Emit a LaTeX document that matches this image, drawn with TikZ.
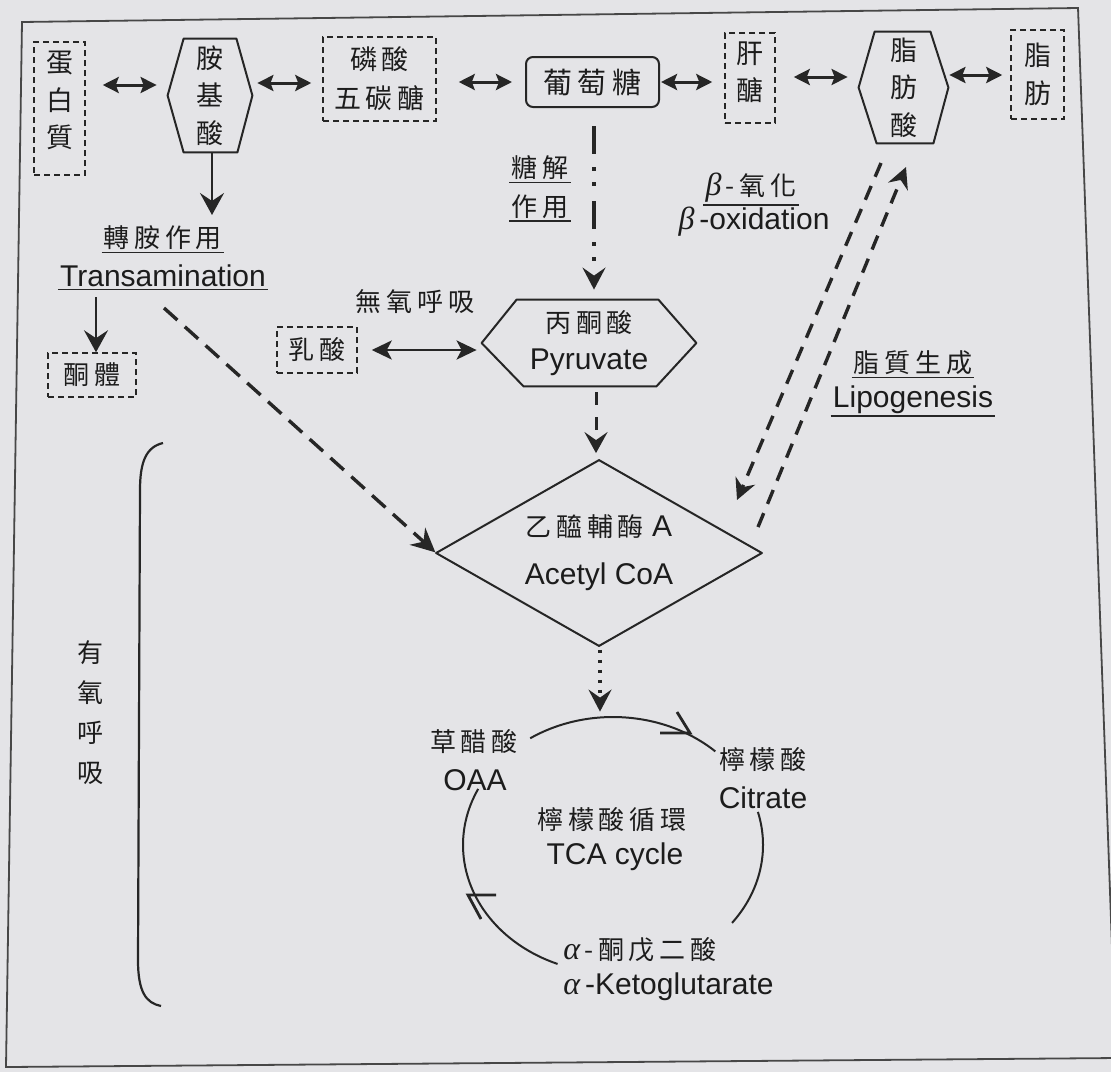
\documentclass[tikz,border=0pt]{standalone}
\usepackage{fontspec}
\setmainfont{Liberation Sans}
\newfontfamily\cjk[LetterSpace=18]{Noto Sans CJK TC}
\newfontfamily\lserif{Liberation Serif}
\usetikzlibrary{arrows.meta,calc}
\definecolor{bg}{RGB}{228,228,231}
\definecolor{lc}{RGB}{38,38,38}
\definecolor{tc}{RGB}{28,28,28}
\newcommand{\grk}[1]{{\lserif\itshape\fontsize{16}{18}\selectfont #1}}
\begin{document}
\begin{tikzpicture}[x=0.5pt,y=-0.5pt,
  ln/.style={draw=lc, line width=1pt, line join=round},
  frame/.style={draw=lc!85, line width=0.9pt},
  dbox/.style={draw=lc, line width=0.75pt, dash pattern=on 3pt off 2pt, inner sep=0pt},
  sbox/.style={inner sep=0pt},
  stack/.style={font=\cjk\fontsize{13.5}{18.75}\selectfont, align=center, text=tc},
  cj/.style={font=\cjk\fontsize{13}{16}\selectfont, text=tc, inner sep=1pt},
  en/.style={font=\fontsize{15}{18}\selectfont, text=tc, inner sep=1pt},
  ulline/.style={draw=lc, line width=0.9pt},
  ul/.style={append after command={(\tikzlastnode.south west) edge[ulline] (\tikzlastnode.south east)}},
  dbl/.style={draw=lc, line width=1.5pt, {Stealth[length=8pt,width=8pt,inset=1.5pt]}-{Stealth[length=8pt,width=8pt,inset=1.5pt]}},
  dbltwo/.style={draw=lc, line width=1.4pt, {Stealth[length=10pt,width=9.5pt,inset=2.5pt]}-{Stealth[length=10pt,width=9.5pt,inset=2.5pt]}},
  sarr/.style={draw=lc, line width=1.4pt, -{Stealth[length=11pt,width=12pt,inset=4pt]}},
  glyarr/.style={draw=lc, line width=1.6pt, dash pattern=on 14pt off 6.5pt on 1.8pt off 5.7pt on 1.8pt off 7.7pt, -{Stealth[length=11pt,width=11.5pt,inset=4pt]}},
  pdarr/.style={draw=lc, line width=1.5pt, dash pattern=on 6.5pt off 6pt, -{Stealth[length=10.5pt,width=11.5pt,inset=4pt]}},
  dotarr/.style={draw=lc, line width=1.7pt, dash pattern=on 1.7pt off 3.3pt, -{Stealth[length=11pt,width=11.5pt,inset=4pt]}},
  darr/.style={draw=lc, line width=1.7pt, dash pattern=on 9pt off 5pt, -{Stealth[length=12pt,width=11.5pt,inset=4pt]}},
  fdarr/.style={draw=lc, line width=1.7pt, dash pattern=on 7.5pt off 5pt, -{Stealth[length=10.5pt,width=10.5pt,inset=3.5pt]}},
  harp/.style={draw=lc, line width=1.4pt, line join=miter}
]
\useasboundingbox (0,0) rectangle (1111,1072);
\fill[bg] (0,0) rectangle (1111,1072);
\draw[frame] (22,22) -- (1078,8) -- (1116,1058) -- (6,1067) -- cycle;

% ---- top row ----
\node[dbox, minimum width=25.5pt, minimum height=66.5pt,
      label={[stack, yshift=4pt]center:蛋\\白\\質}] (prot) at (59.5,108.5) {};
\node[sbox, minimum width=42pt, minimum height=56.5pt, stack] (aa) at (210,95.5) {胺\\基\\酸};
\draw[ln] (aa.west) -- ($(aa.north west)+(16,0)$) -- ($(aa.north east)+(-16,0)$) -- (aa.east)
  -- ($(aa.south east)+(-15,0)$) -- ($(aa.south west)+(16,0)$) -- cycle;
\node[dbox, minimum width=56.5pt, minimum height=42pt, stack,
      font=\cjk\fontsize{13.5}{19.5}\selectfont] (p5) at (379.5,79) {磷酸\\五碳醣};
\node[draw=lc, line width=1pt, rounded corners=3.5pt, minimum width=66.5pt, minimum height=25pt,
      inner sep=0pt, font=\cjk\fontsize{14.5}{16}\selectfont, text=tc] (glu) at (592.5,82) {葡萄糖};
\node[dbox, minimum width=25pt, minimum height=45pt,
      label={[stack, yshift=3pt]center:肝\\醣}] (gly) at (750,78) {};
\node[sbox, minimum width=44.5pt, minimum height=55.5pt, stack] (fa) at (903.5,87.5) {脂\\肪\\酸};
\draw[ln] (fa.west) -- ($(fa.north west)+(16,0)$) -- ($(fa.north east)+(-18,0)$) -- (fa.east)
  -- ($(fa.south east)+(-15,0)$) -- ($(fa.south west)+(18,0)$) -- cycle;
\node[dbox, minimum width=26.5pt, minimum height=44.5pt, stack] (fat) at (1037.5,74.5) {脂\\肪};

\coordinate (r1) at (0,85);
\coordinate (r2) at (0,83);
\coordinate (r3) at (0,82);
\coordinate (r5) at (0,77);
\coordinate (r6) at (0,75);
\coordinate (r7) at (0,350);
\draw[dbl, shorten <=8.5pt, shorten >=5.5pt] (prot.east |- r1) -- (aa.west |- r1);
\draw[dbl, shorten <=2.5pt, shorten >=5.5pt] (aa.east |- r2) -- (p5.west |- r2);
\draw[dbl, shorten <=11pt, shorten >=6.5pt] (p5.east |- r3) -- (glu.west |- r3);
\draw[dbl, shorten <=0.5pt, shorten >=6pt] (glu.east |- r3) -- (gly.west |- r3);
\draw[dbl, shorten <=9pt, shorten >=5.5pt] (gly.east |- r5) -- (fa.west |- r5);
\draw[dbl, shorten <=0.5pt, shorten >=4pt] (fa.east |- r6) -- (fat.west |- r6);

% ---- left side ----
\node[cj, ul] (ta1) at (163,238) {轉胺作用};
\node[en, ul] (ta2) at (163,276) {Transamination};
\coordinate (taTop) at (212,215);
\draw[sarr] (aa.south -| taTop) -- (taTop);
\node[dbox, minimum width=44pt, minimum height=22pt, cj] (ket) at (92,375) {酮體};
\coordinate (kTop) at (96,297);
\draw[sarr] (kTop) -- (kTop |- ket.north);

% ---- middle ----
\node[cj, ul] (gl1) at (540,168) {糖解};
\node[cj, ul] (gl2) at (540,207) {作用};
\node[cj] (anae) at (415,302) {無氧呼吸};
\node[dbox, minimum width=40pt, minimum height=23pt, cj] (lac) at (317,350) {乳酸};
\node[sbox, minimum width=107pt, minimum height=43pt, en, align=center] (pyr) at (589,343)
  {{\cjk\fontsize{13}{18.5}\selectfont 丙酮酸}\\[0.5pt]Pyruvate};
\draw[ln] (pyr.west) -- ($(pyr.north west)+(35,0)$) -- ($(pyr.north east)+(-38,0)$) -- (pyr.east)
  -- ($(pyr.south east)+(-40,0)$) -- ($(pyr.south west)+(42,0)$) -- cycle;
\draw[dbltwo, shorten <=7pt, shorten >=2.5pt] (lac.east |- r7) -- (pyr.west |- r7);

\node[sbox, minimum width=162.5pt, minimum height=92.5pt, en, align=center] (acoa) at (599,553)
  {{\cjk\fontsize{13}{18}\selectfont 乙醯輔酶} A\\[6pt]Acetyl CoA};
\draw[ln] (acoa.west) -- (acoa.north) -- (acoa.east) -- (acoa.south) -- cycle;

\coordinate (gx) at (594,0);
\coordinate (px) at (596,0);
\coordinate (tx) at (600,0);
\draw[glyarr, shorten <=9pt, shorten >=5pt] (glu.south -| gx) -- (gx |- pyr.north);
\draw[pdarr, shorten <=3pt, shorten >=3.5pt] (pyr.south -| px) -- (px |- acoa.north);

\coordinate (tstart) at (164,308);
\draw[darr, shorten >=0.5pt] (tstart) -- (acoa.west);

% ---- fatty acid side ----
\node[cj, ul] (bo1) at (751,188) {\grk{β}\,-氧化};
\node[en] (bo2) at (754,222) {\grk{β}\,-oxidation};
\node[cj, ul] (lg1) at (913,363) {脂質生成};
\node[en, ul] (lg2) at (913,400) {Lipogenesis};
\coordinate (b1s) at (881,163);
\coordinate (b1e) at (737,500);
\coordinate (l1s) at (758,527);
\coordinate (l1e) at (906,167);
\draw[fdarr] (b1s) -- (b1e);
\draw[fdarr] (l1s) -- (l1e);

% ---- TCA cycle ----
\node[sbox, minimum width=150pt, minimum height=128pt] (tca) at (613,845) {};
\draw[dotarr, shorten <=2pt, shorten >=2.5pt] (acoa.south -| tx) -- (tx |- tca.north);
\draw[ln] (tca.center) ++(-123.5:150 and 128) arc[start angle=-123.5, end angle=-47, x radius=150, y radius=128];
\draw[ln] (tca.center) ++(-15:150 and 128) arc[start angle=-15, end angle=37.5, x radius=150, y radius=128];
\draw[ln] (tca.center) ++(206:150 and 128) arc[start angle=206, end angle=111.7, x radius=150, y radius=128];
\draw[harp] (660,733) -- (690,733) -- (677,712);
\draw[harp] (496,895) -- (468,895) -- (481,919);

\node[cj] (oaa1) at (474,742) {草醋酸};
\node[en] (oaa2) at (475,780) {OAA};
\node[cj] (cit1) at (763,760) {檸檬酸};
\node[en] (cit2) at (763,798) {Citrate};
\node[cj] (tc1) at (612,820) {檸檬酸循環};
\node[en] (tc2) at (615,857) {TCA cycle};
\node[cj, anchor=west] (ak1) at (561,950) {\grk{α}\,-酮戊二酸};
\node[en, anchor=west] (ak2) at (561,987) {\grk{α}\,-Ketoglutarate};

% ---- aerobic bracket ----
\draw[ln, line width=1.1pt] (163,443) .. controls (146,447) and (140,462) .. (140,490)
  -- (138,960) .. controls (138,992) and (146,1003) .. (161,1006);
\node[stack, font=\cjk\fontsize{13}{20}\selectfont] (aer) at (90,713) {有\\氧\\呼\\吸};
\end{tikzpicture}
\end{document}
